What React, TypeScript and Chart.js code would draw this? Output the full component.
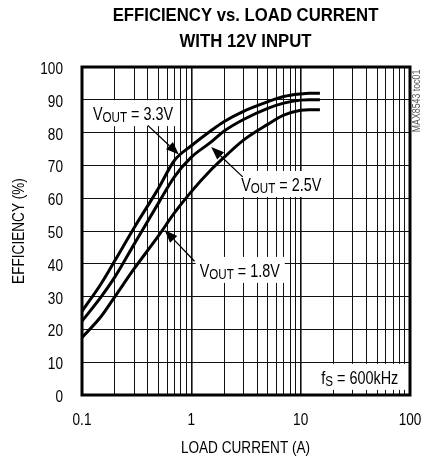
import React, { useEffect, useRef } from 'react';
import { Chart, registerables } from 'chart.js';

Chart.register(...registerables);

// ---- data ----
const loadCurrentA = [0.1, 0.15, 0.2, 0.3, 0.5, 0.7, 1, 1.5, 2, 3, 5, 7, 10, 12, 15];
const eff33 = [25.5, 34, 41, 51, 63, 71.5, 76, 80.5, 83.4, 86.5, 89.4, 91, 91.8, 92, 92];
const eff25 = [22.5, 30, 36, 46, 58.5, 66.5, 72.5, 77, 80.5, 84, 87.4, 89, 89.9, 90, 90];
const eff18 = [17.5, 24, 30, 38.5, 48.5, 55.5, 62, 68.5, 72.5, 77.7, 82.5, 85.3, 86.8, 87, 87];

const xDecades = [0.1, 1, 10, 100];
const xDecadeLabels = ['0.1', '1', '10', '100'];
const xMinorMultipliers = [1, 2, 3, 4, 5, 6, 7, 8, 9];
const yMin = 0;
const yMax = 100;
const yStep = 10;

const titleLines = ['EFFICIENCY vs. LOAD CURRENT', 'WITH 12V INPUT'];
const xTitle = 'LOAD CURRENT (A)';
const yTitle = 'EFFICIENCY (%)';
const sideNote = 'MAX8543 toc01';

// annotation texts (main letter, subscript, rest)
const noteMain = ['V', 'V', 'V', 'f'];
const noteSub = ['OUT', 'OUT', 'OUT', 'S'];
const noteRest = [' = 3.3V', ' = 2.5V', ' = 1.8V', ' = 600kHz'];
// annotation anchors in data units (text centre x / baseline y, arrow start, arrow tip)
const noteAt = [[0.293, 83.8], [6.64, 62.2], [2.77, 36], [34.7, 3.4]];
const arrowFrom = [[0.4, 82.2], [2.95, 66.5], [1.07, 40.8], null];
const arrowTip = [[0.77, 73.3], [1.52, 75.6], [0.57, 50.3], null];

const FONT = "'Liberation Sans', Arial, sans-serif";
const SQUEEZE = 0.8;

const xGridValues: number[] = [];
xDecades.slice(0, 3).forEach((d) => xMinorMultipliers.forEach((m) => xGridValues.push(d * m)));
xGridValues.push(xDecades[3]);

const isDecade = (v: number) => Math.abs(Math.log10(v) - Math.round(Math.log10(v))) < 1e-6;

function narrowText(
  ctx: CanvasRenderingContext2D,
  text: string,
  x: number,
  y: number,
  font: string,
  align: CanvasTextAlign,
  squeeze = SQUEEZE,
  rotate = 0
) {
  ctx.save();
  ctx.translate(x, y);
  if (rotate) ctx.rotate(rotate);
  ctx.scale(squeeze, 1);
  ctx.font = font;
  ctx.textAlign = align;
  ctx.textBaseline = 'alphabetic';
  ctx.fillText(text, 0, 0);
  ctx.restore();
}

function textW(ctx: CanvasRenderingContext2D, text: string, font: string, squeeze = SQUEEZE) {
  ctx.save();
  ctx.font = font;
  const w = ctx.measureText(text).width * squeeze;
  ctx.restore();
  return w;
}

function drawArrow(ctx: CanvasRenderingContext2D, x1: number, y1: number, x2: number, y2: number) {
  const ang = Math.atan2(y2 - y1, x2 - x1);
  const len = 13;
  const hw = 5;
  const bx = x2 - len * Math.cos(ang);
  const by = y2 - len * Math.sin(ang);
  ctx.save();
  ctx.strokeStyle = '#000';
  ctx.lineWidth = 1.3;
  ctx.beginPath();
  ctx.moveTo(x1, y1);
  ctx.lineTo(bx, by);
  ctx.stroke();
  ctx.fillStyle = '#000';
  ctx.beginPath();
  ctx.moveTo(x2, y2);
  ctx.lineTo(bx + hw * Math.sin(ang), by - hw * Math.cos(ang));
  ctx.lineTo(bx - hw * Math.sin(ang), by + hw * Math.cos(ang));
  ctx.closePath();
  ctx.fill();
  ctx.restore();
}

const notesPlugin = {
  id: 'notes',
  afterDatasetsDraw(chart: any) {
    const ctx: CanvasRenderingContext2D = chart.ctx;
    const xs = chart.scales.x;
    const ys = chart.scales.y;
    const area = chart.chartArea;
    const mainFont = `18px ${FONT}`;
    const subFont = `14.5px ${FONT}`;
    for (let i = 0; i < noteMain.length; i++) {
      const wMain = textW(ctx, noteMain[i], mainFont);
      const wSub = textW(ctx, noteSub[i], subFont);
      const wRest = textW(ctx, noteRest[i], mainFont);
      const total = wMain + wSub + wRest;
      const cx = xs.getPixelForValue(noteAt[i][0]);
      const base = ys.getPixelForValue(noteAt[i][1]);
      const left = cx - total / 2;
      const bx0 = left - 4;
      const bx1 = i === 3 ? area.right : left + total + 5;
      ctx.save();
      ctx.fillStyle = '#fff';
      ctx.fillRect(bx0, base - 20, bx1 - bx0, 26);
      ctx.fillStyle = '#000';
      narrowText(ctx, noteMain[i], left, base, mainFont, 'left');
      narrowText(ctx, noteSub[i], left + wMain, base + 2, subFont, 'left');
      narrowText(ctx, noteRest[i], left + wMain + wSub, base, mainFont, 'left');
      ctx.restore();
      const f = arrowFrom[i];
      const t = arrowTip[i];
      if (f && t) {
        drawArrow(ctx, xs.getPixelForValue(f[0]), ys.getPixelForValue(f[1]), xs.getPixelForValue(t[0]), ys.getPixelForValue(t[1]));
      }
    }
  },
  afterDraw(chart: any) {
    const ctx: CanvasRenderingContext2D = chart.ctx;
    const area = chart.chartArea;
    const xs = chart.scales.x;
    const ys = chart.scales.y;
    ctx.save();
    ctx.strokeStyle = '#000';
    ctx.lineWidth = 3;
    ctx.strokeRect(area.left, area.top, area.right - area.left, area.bottom - area.top);
    ctx.fillStyle = '#000';
    const tickFont = `17px ${FONT}`;
    // x tick labels from the scale's ticks
    xs.ticks.forEach((t: any) => {
      if (!isDecade(t.value)) return;
      const lab = xDecadeLabels[Math.round(Math.log10(t.value)) + 1];
      narrowText(ctx, lab, xs.getPixelForValue(t.value), area.bottom + 30, tickFont, 'center');
    });
    // y tick labels
    ys.ticks.forEach((t: any) => {
      narrowText(ctx, String(t.value), area.left - 19, ys.getPixelForValue(t.value) + 7, tickFont, 'right');
    });
    const cx = (area.left + area.right) / 2 - 0.5;
    narrowText(ctx, titleLines[0], cx, 21, `bold 19px ${FONT}`, 'center', 0.88);
    narrowText(ctx, titleLines[1], cx, 47, `bold 19px ${FONT}`, 'center', 0.88);
    narrowText(ctx, xTitle, cx, 453, `17px ${FONT}`, 'center');
    narrowText(ctx, yTitle, 24, (area.top + area.bottom) / 2, `17px ${FONT}`, 'center', SQUEEZE, -Math.PI / 2);
    ctx.fillStyle = '#555';
    narrowText(ctx, sideNote, 420, area.top + 34, `11px ${FONT}`, 'center', SQUEEZE, -Math.PI / 2);
    ctx.restore();
  },
};

export default function App() {
  const canvasRef = useRef<HTMLCanvasElement | null>(null);
  useEffect(() => {
    if (!canvasRef.current) return;
    const mk = (ys: number[]) => loadCurrentA.map((x, i) => ({ x, y: ys[i] }));
    const ds = (ys: number[]) => ({
      data: mk(ys),
      borderColor: '#000',
      borderWidth: 3,
      pointRadius: 0,
      fill: false,
      cubicInterpolationMode: 'monotone' as const,
    });
    const chart = new Chart(canvasRef.current, {
      type: 'line',
      data: { datasets: [ds(eff33), ds(eff25), ds(eff18)] },
      options: {
        animation: false,
        responsive: false,
        events: [],
        layout: { padding: { top: 67, right: 14, left: 0, bottom: 0 } },
        plugins: { legend: { display: false }, tooltip: { enabled: false }, title: { display: false } },
        scales: {
          x: {
            type: 'logarithmic',
            min: xDecades[0],
            max: xDecades[3],
            afterBuildTicks: (scale: any) => {
              scale.ticks = xGridValues.map((v) => ({ value: v, major: isDecade(v) }));
            },
            afterFit: (scale: any) => {
              scale.height = 65;
            },
            ticks: { display: false, autoSkip: false },
            grid: {
              color: '#111',
              lineWidth: (c: any) => (c.tick && isDecade(c.tick.value) ? 1.6 : 1),
              drawTicks: false,
            },
            border: { display: false },
          },
          y: {
            type: 'linear',
            min: yMin,
            max: yMax,
            afterFit: (scale: any) => {
              scale.width = 82;
            },
            ticks: { display: false, stepSize: yStep },
            grid: { color: '#111', lineWidth: 1, drawTicks: false },
            border: { display: false },
          },
        },
      },
      plugins: [notesPlugin],
    });
    return () => chart.destroy();
  }, []);
  return (
    <div style={{ position: 'absolute', left: 0, top: 0, width: 424, height: 460, background: '#fff' }}>
      <canvas ref={canvasRef} width={424} height={460} style={{ width: 424, height: 460, display: 'block' }} />
    </div>
  );
}
